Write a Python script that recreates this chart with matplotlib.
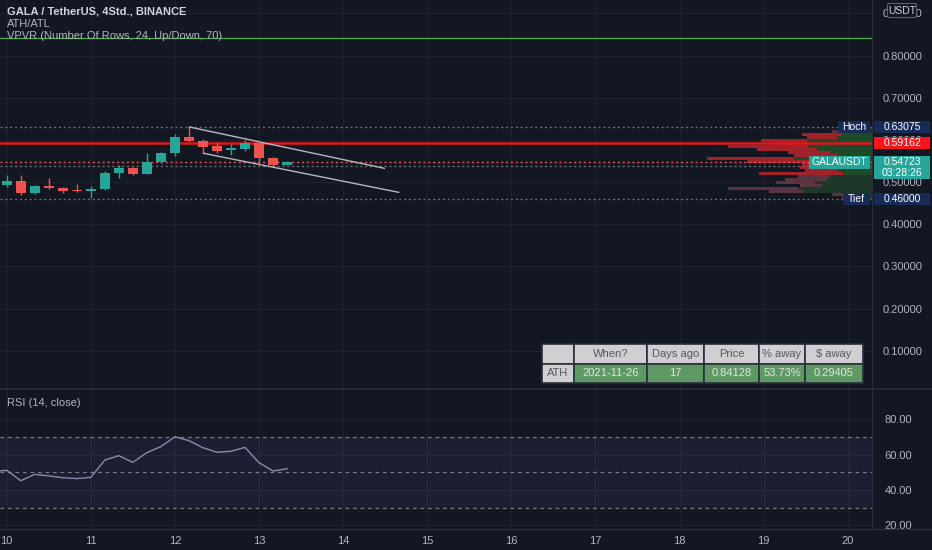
import matplotlib
matplotlib.use("Agg")
import matplotlib.pyplot as plt
import numpy as np
from matplotlib.patches import Rectangle, FancyBboxPatch
from matplotlib.transforms import IdentityTransform

# ---- data (4h candles, GALA/USDT from the 10th 00:00) ----
opens  = [0.494, 0.502, 0.474, 0.492, 0.487, 0.482, 0.480, 0.484, 0.522, 0.534, 0.520,
          0.548, 0.568, 0.607, 0.598, 0.586, 0.576, 0.579, 0.592, 0.558, 0.541]
highs  = [0.517, 0.516, 0.493, 0.509, 0.489, 0.496, 0.492, 0.526, 0.540, 0.537, 0.570,
          0.571, 0.613, 0.63075, 0.6015, 0.596, 0.590, 0.600, 0.596, 0.560, 0.550]
lows   = [0.489, 0.470, 0.473, 0.483, 0.475, 0.477, 0.462, 0.481, 0.510, 0.516, 0.520,
          0.545, 0.563, 0.595, 0.570, 0.570, 0.565, 0.575, 0.546, 0.539, 0.540]
closes = [0.502, 0.474, 0.492, 0.485, 0.480, 0.480, 0.484, 0.522, 0.534, 0.520, 0.548,
          0.568, 0.607, 0.598, 0.584, 0.575, 0.580, 0.592, 0.557, 0.541, 0.54723]
first_day = 10
candles_per_day = 6

# RSI(14), one extra bar before the first candle
rsi = [50.4, 51.1, 45.2, 48.8, 47.9, 46.9, 46.4, 47.1, 56.9, 59.4, 55.6, 61.1,
       64.5, 70.1, 67.9, 63.9, 61.3, 61.9, 64.1, 55.4, 50.7, 52.0]

hoch, tief = 0.63075, 0.46000
ath_price = 0.84128
level_red = 0.59162
level_grey = 0.5383
last_price = 0.54723
countdown = "03:28:26"

# trend channel drawn on the chart (day, price)
chan_upper = [(12.17, 0.6308), (14.49, 0.5328)]
chan_lower = [(12.34, 0.5684), (14.66, 0.4759)]

# VPVR, 24 rows from Tief to Hoch (bottom to top)
vp_up   = [20, 25, 69, 74, 50, 57, 45, 42, 29, 35, 38, 35, 62, 79, 35, 42, 55, 64, 60, 65, 35, 30, 20, 10]
vp_down = [10, 15, 34, 70, 22, 39, 42, 32, 84, 32, 34, 35, 63, 86, 43, 42, 60, 80, 42, 46, 30, 40, 20, 10]
va_rows = range(8, 22)

price_ticks = [0.1, 0.2, 0.3, 0.4, 0.5, 0.6, 0.7, 0.8, 0.9]
rsi_ticks = [20, 40, 60, 80]
day_ticks = list(range(10, 21))

tbl_head = ["", "When?", "Days ago", "Price", "% away", "$ away"]
tbl_row = ["ATH", "2021-11-26", "17", "0.84128", "53.73%", "0.29405"]

# ---- style ----
BG = "#131722"
GRID = "#1e222d"
TXT = "#b2b5be"
UP = "#26a69a"
DOWN = "#ef5350"
NAVY = "#172b59"
plt.rcParams["font.family"] = ["Liberation Sans", "DejaVu Sans"]

W, H = 932, 550


def box(x0, y0, x1, y1):
    return [x0 / W, 1 - y1 / H, (x1 - x0) / W, (y1 - y0) / H]


fig = plt.figure(figsize=(W / 100, H / 100), dpi=100)
fig.patch.set_facecolor(BG)
ax = fig.add_axes(box(0, 0, 872, 388))
ax2 = fig.add_axes(box(0, 390, 872, 528))

px_per_day = 84.1
x_lo = first_day - 6.7 / px_per_day
x_hi = x_lo + 872 / px_per_day

for a in (ax, ax2):
    a.set_facecolor(BG)
    a.set_xlim(x_lo, x_hi)
    for s in a.spines.values():
        s.set_visible(False)
    a.spines["right"].set_visible(True)
    a.spines["right"].set_color("#2a2e39")
    a.yaxis.tick_right()
    a.tick_params(length=0, colors=TXT, labelsize=8)
    a.set_xticks(day_ticks)
    a.grid(True, color=GRID, lw=0.8)
    a.set_axisbelow(True)

ax.set_ylim(0.0118, 0.9319)
ax.set_yticks(price_ticks)
ax.set_yticklabels(["%.5f" % v for v in price_ticks])
ax.tick_params(axis="y", pad=8)
ax.tick_params(axis="x", labelbottom=False)

# candles
o, h, l, c = map(np.array, (opens, highs, lows, closes))
t = first_day + np.arange(len(o)) / candles_per_day
col = np.where(c >= o, UP, DOWN)
ax.vlines(t, l, h, colors=col, lw=1, zorder=4)
ax.bar(t, np.maximum(np.abs(c - o), 0.0015), bottom=np.minimum(o, c), width=0.118,
       color=col, lw=0, zorder=5)

# VPVR
edges = np.linspace(tief, hoch, len(vp_up) + 1)
centers = (edges[:-1] + edges[1:]) / 2
rowh = edges[1] - edges[0]
unit = 1 / px_per_day
up_w = np.array(vp_up) * unit
dn_w = np.array(vp_down) * unit
in_va = np.array([k in va_rows for k in range(len(vp_up))])
ax.barh(centers, -up_w, left=x_hi, height=rowh * 0.7,
        color=np.where(in_va, "#1e4a28", "#1d3829"), lw=0, zorder=2)
ax.barh(centers, -dn_w, left=x_hi - up_w, height=rowh * 0.7,
        color=np.where(in_va, "#a22229", "#5a3440"), lw=0, zorder=2)

# levels
ax.axhline(ath_price, color="#4caf50", lw=0.9, zorder=3)
ax.axhline(level_red, color="#e0161c", lw=1.8, zorder=3)
ax.axhline(hoch, color="#6a6d78", lw=1, ls=(0, (1.5, 2)), zorder=3)
ax.axhline(tief, color="#6a6d78", lw=1, ls=(0, (1.5, 2)), zorder=3)
ax.axhline(level_grey, color="#6a6d78", lw=1, ls=(0, (1.5, 2)), zorder=3)
ax.axhline(last_price, color=DOWN, lw=1, ls=(0, (1.5, 2)), zorder=3)

for seg in (chan_upper, chan_lower):
    xs, ys = zip(*seg)
    ax.plot(xs, ys, color="#b6b8c0", lw=1, zorder=6)

# header texts
fig.text(7 / W, 1 - 12 / H, "GALA / TetherUS, 4Std., BINANCE", color="#d1d4dc",
         fontsize=8, fontweight="bold", va="center")
fig.text(7 / W, 1 - 24 / H, "ATH/ATL", color=TXT, fontsize=8, va="center")
fig.text(7 / W, 1 - 36 / H, "VPVR (Number Of Rows, 24, Up/Down, 70)", color=TXT,
         fontsize=8, va="center")

# ATH table
cw = np.array([32.6, 72.4, 57.6, 54.7, 46.0, 57.7])
tb = ax.table(cellText=[tbl_head, tbl_row], colWidths=list(cw / cw.sum()),
              bbox=[541.7 / 872, (388 - 383.3) / 388, 321 / 872, 39.3 / 388],
              cellLoc="center")
tb.auto_set_font_size(False)
tb.set_fontsize(8)
tb.set_zorder(10)
for (r, ci), cell in tb.get_celld().items():
    cell.set_edgecolor("#2a2e39")
    cell.set_linewidth(1.2)
    if r == 0 or ci == 0:
        cell.set_facecolor("#cfd0d2")
        cell.get_text().set_color("#55585f")
    else:
        cell.set_facecolor("#5f9a66")
        cell.get_text().set_color("#dce7dc")

# RSI pane
ax2.set_ylim(18.4, 96.6)
ax2.set_yticks(rsi_ticks)
ax2.set_yticklabels(["%.2f" % v for v in rsi_ticks])
ax2.tick_params(axis="y", pad=9)
ax2.set_xticklabels([str(d) for d in day_ticks])
ax2.tick_params(axis="x", pad=6)
ax2.axhspan(30, 70, color="#7e57c2", alpha=0.11, lw=0)
for lv in (70, 50, 30):
    ax2.axhline(lv, color="#787b86", lw=0.9, ls=(0, (3, 3)))
t_rsi = first_day + np.arange(-1, len(rsi) - 1) / candles_per_day
ax2.plot(t_rsi, rsi, color="#8e89ab", lw=1)
ax2.text(7 / 872, 1 - 13 / 138, "RSI (14, close)", transform=ax2.transAxes,
         color=TXT, fontsize=8, va="center")

# pane separators
fig.add_artist(plt.Line2D([0, 1], [1 - 389 / H, 1 - 389 / H], color="#2a2e39", lw=1.2))
fig.add_artist(plt.Line2D([0, 1], [1 - 529 / H, 1 - 529 / H], color="#2a2e39", lw=1))

# price tags (positions taken from the axis transform)
fig.canvas.draw()


def tag(price, x0, x1, text, color, hpx=12, extra=None):
    yd = ax.transData.transform((x_lo, price))[1]
    hh = hpx if extra is None else hpx * 2 - 1
    top = yd + hpx / 2
    fig.add_artist(Rectangle((x0, top - hh), x1 - x0, hh, transform=IdentityTransform(),
                             facecolor=color, edgecolor="none", zorder=20))
    fig.text((x0 + x1) / 2, yd, text, transform=IdentityTransform(), color="white",
             fontsize=7.5, ha="center", va="center", zorder=21)
    if extra:
        fig.text((x0 + x1) / 2, yd - hpx + 1, extra, transform=IdentityTransform(),
                 color="white", fontsize=7.5, ha="center", va="center", zorder=21)


tag(hoch, 838, 870, "Hoch", NAVY)
tag(hoch, 874, 930, "%.5f" % hoch, NAVY)
tag(level_red, 874, 930, "%.5f" % level_red, "#f5161b")
tag(last_price, 809, 870, "GALAUSDT", UP, hpx=13)
tag(last_price, 874, 930, "%.5f" % last_price, UP, hpx=12, extra=countdown)
tag(tief, 843, 870, "Tief", NAVY)
tag(tief, 874, 930, "%.5f" % tief, NAVY)

# currency badge
fig.add_artist(FancyBboxPatch((889, H - 16), 26, 11, boxstyle="round,pad=1.5",
                              transform=IdentityTransform(), facecolor=BG,
                              edgecolor="#5d606b", lw=0.8, zorder=20))
fig.text(902, H - 10.5, "USDT", transform=IdentityTransform(), color="#d1d4dc",
         fontsize=7.5, ha="center", va="center", zorder=21)

fig.savefig("out.png", dpi=100, facecolor=BG)
